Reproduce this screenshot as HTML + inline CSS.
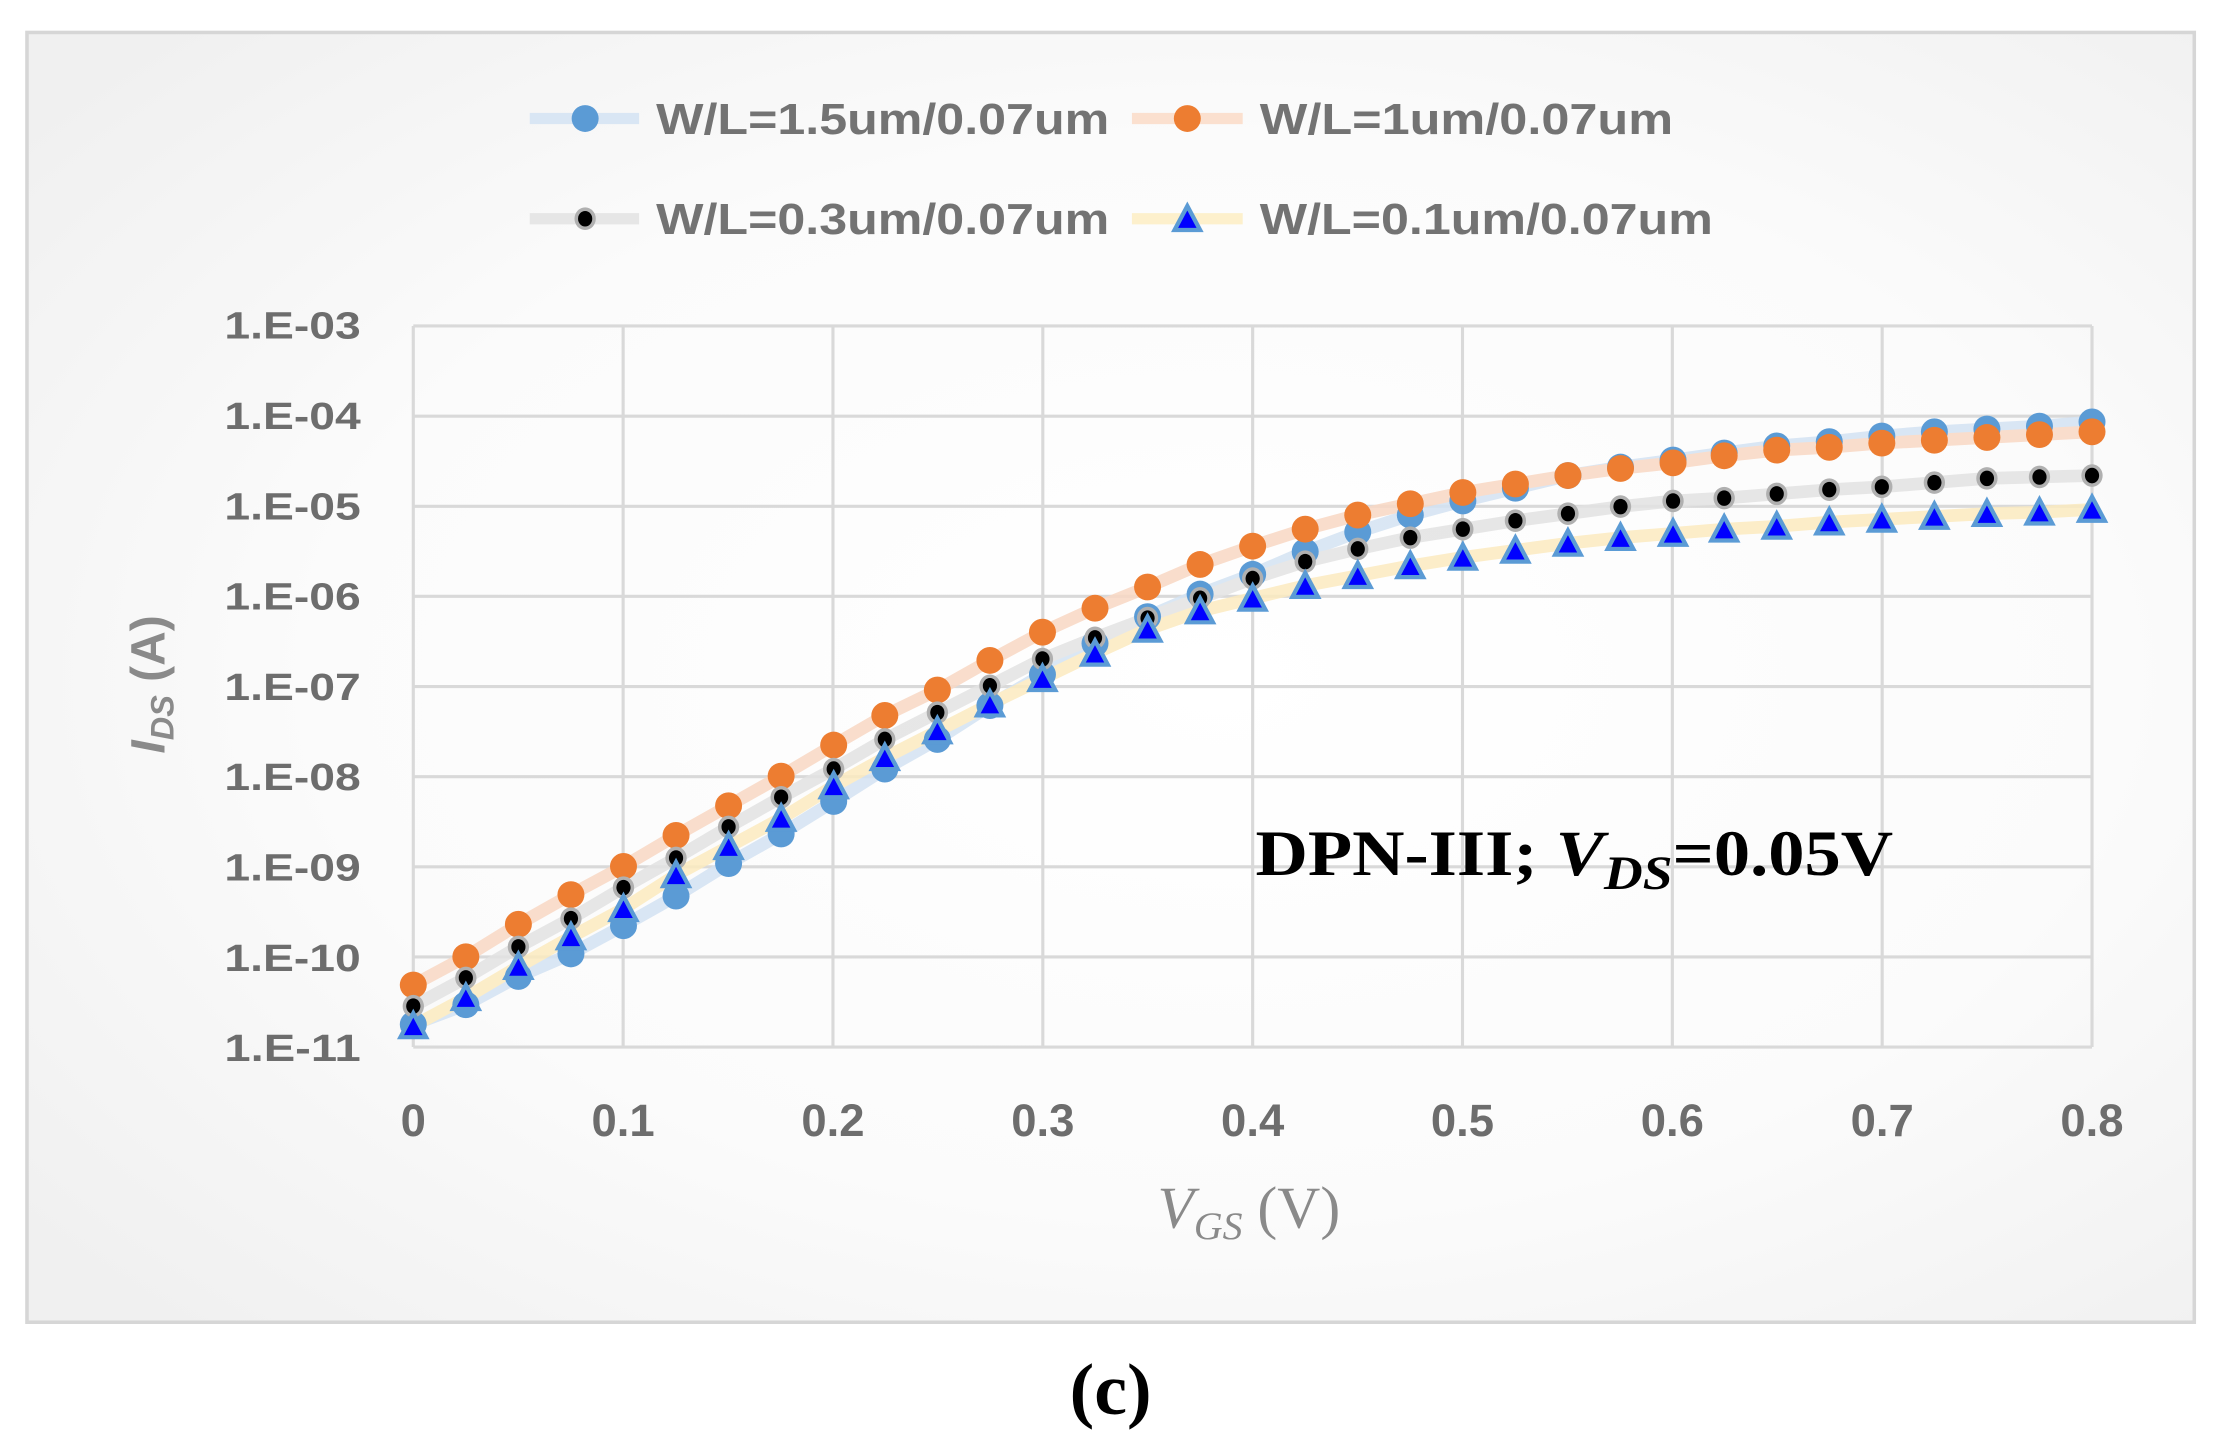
<!DOCTYPE html>
<html><head><meta charset="utf-8"><style>
html,body{margin:0;padding:0;background:#fff;}
svg{display:block;}
</style></head><body>
<svg width="2217" height="1445" viewBox="0 0 1561 1024" preserveAspectRatio="none" xmlns="http://www.w3.org/2000/svg">
<defs>
<radialGradient id="bg" cx="0.55" cy="0.5" r="0.7">
<stop offset="0" stop-color="#ffffff"/><stop offset="0.6" stop-color="#fbfbfb"/><stop offset="1" stop-color="#f0f0f0"/>
</radialGradient>
<g id="mb"><ellipse cx="0" cy="0" rx="9.5" ry="9.5" fill="#5b9bd5"/></g>
<g id="mo"><ellipse cx="0" cy="0" rx="9.5" ry="9.5" fill="#ed7d31"/></g>
<g id="mk"><ellipse cx="0" cy="0" rx="7.5" ry="8" fill="#b0b0b0"/><ellipse cx="0" cy="0" rx="5" ry="5.5" fill="#000"/></g>
<g id="mt"><polygon points="0,-9 9,8 -9,8" fill="#0000ff" stroke="#5b9bd5" stroke-width="3" stroke-linejoin="miter"/></g>
</defs>
<rect x="0" y="0" width="1561" height="1024" fill="#fff"/>
<rect x="19" y="23" width="1526" height="914" fill="url(#bg)" stroke="#d6d6d6" stroke-width="2.5"/>
<g stroke="#d9d9d9" stroke-width="2.2" fill="none">
<line x1="291" y1="231" x2="1473" y2="231"/><line x1="291" y1="294.9" x2="1473" y2="294.9"/>
<line x1="291" y1="358.8" x2="1473" y2="358.8"/><line x1="291" y1="422.6" x2="1473" y2="422.6"/>
<line x1="291" y1="486.5" x2="1473" y2="486.5"/><line x1="291" y1="550.4" x2="1473" y2="550.4"/>
<line x1="291" y1="614.3" x2="1473" y2="614.3"/><line x1="291" y1="678.1" x2="1473" y2="678.1"/>
<line x1="291" y1="742" x2="1473" y2="742"/>
<line x1="291" y1="231" x2="291" y2="742"/><line x1="438.75" y1="231" x2="438.75" y2="742"/>
<line x1="586.5" y1="231" x2="586.5" y2="742"/><line x1="734.25" y1="231" x2="734.25" y2="742"/>
<line x1="882" y1="231" x2="882" y2="742"/><line x1="1029.75" y1="231" x2="1029.75" y2="742"/>
<line x1="1177.5" y1="231" x2="1177.5" y2="742"/><line x1="1325.25" y1="231" x2="1325.25" y2="742"/>
<line x1="1473" y1="231" x2="1473" y2="742"/>
</g>
<g font-family="Liberation Sans, sans-serif" font-weight="bold" font-size="27" fill="#6d6d6d">
<text x="158" y="240" textLength="96" lengthAdjust="spacingAndGlyphs">1.E-03</text>
<text x="158" y="304" textLength="96" lengthAdjust="spacingAndGlyphs">1.E-04</text>
<text x="158" y="368" textLength="96" lengthAdjust="spacingAndGlyphs">1.E-05</text>
<text x="158" y="432" textLength="96" lengthAdjust="spacingAndGlyphs">1.E-06</text>
<text x="158" y="496" textLength="96" lengthAdjust="spacingAndGlyphs">1.E-07</text>
<text x="158" y="560" textLength="96" lengthAdjust="spacingAndGlyphs">1.E-08</text>
<text x="158" y="624" textLength="96" lengthAdjust="spacingAndGlyphs">1.E-09</text>
<text x="158" y="688" textLength="96" lengthAdjust="spacingAndGlyphs">1.E-10</text>
<text x="158" y="752" textLength="96" lengthAdjust="spacingAndGlyphs">1.E-11</text>
</g>
<g font-family="Liberation Sans, sans-serif" font-weight="bold" font-size="32" fill="#6d6d6d" text-anchor="middle">
<text x="291" y="805">0</text><text x="438.75" y="805">0.1</text><text x="586.5" y="805">0.2</text>
<text x="734.25" y="805">0.3</text><text x="882" y="805">0.4</text><text x="1029.75" y="805">0.5</text>
<text x="1177.5" y="805">0.6</text><text x="1325.25" y="805">0.7</text><text x="1473" y="805">0.8</text>
</g>
<text x="815" y="870" font-family="Liberation Serif, serif" font-size="42" fill="#8a8a8a"><tspan font-style="italic">V</tspan><tspan font-style="italic" font-size="28" dy="8">GS</tspan><tspan dy="-8"> (V)</tspan></text>
<text transform="translate(116,485) rotate(-90)" text-anchor="middle" font-family="Liberation Sans, sans-serif" font-weight="bold" font-size="34" fill="#8a8a8a"><tspan font-style="italic">I</tspan><tspan font-style="italic" font-size="23" dy="6">DS</tspan><tspan dy="-6"> (A)</tspan></text>
<text x="884" y="620" font-family="Liberation Serif, serif" font-weight="bold" font-size="46" fill="#000" textLength="449" lengthAdjust="spacingAndGlyphs">DPN-III; <tspan font-style="italic">V</tspan><tspan font-style="italic" font-size="34" dy="10">DS</tspan><tspan dy="-10">=0.05V</tspan></text>
<text x="782" y="1002" text-anchor="middle" font-family="Liberation Serif, serif" font-weight="bold" font-size="52" fill="#000">(c)</text>
<g stroke-width="8" stroke-linecap="butt">
<line x1="373" y1="84" x2="450" y2="84" stroke="#d9e6f4"/>
<line x1="797" y1="84" x2="875" y2="84" stroke="#fbe0cf"/>
<line x1="373" y1="155" x2="450" y2="155" stroke="#e6e6e6"/>
<line x1="797" y1="155" x2="875" y2="155" stroke="#fdf0cc"/>
</g>
<use href="#mb" x="412" y="84"/><use href="#mo" x="836" y="84"/>
<use href="#mk" x="412" y="155"/><use href="#mt" x="836" y="155"/>
<g font-family="Liberation Sans, sans-serif" font-weight="bold" font-size="31" fill="#737373">
<text x="462" y="95" textLength="319" lengthAdjust="spacingAndGlyphs">W/L=1.5um/0.07um</text>
<text x="887" y="95" textLength="291" lengthAdjust="spacingAndGlyphs">W/L=1um/0.07um</text>
<text x="462" y="166" textLength="319" lengthAdjust="spacingAndGlyphs">W/L=0.3um/0.07um</text>
<text x="887" y="166" textLength="319" lengthAdjust="spacingAndGlyphs">W/L=0.1um/0.07um</text>
</g>
<g fill="none" stroke-width="9" stroke-linejoin="round" opacity="0.85">
<polyline stroke="#d4e3f3" points="291,726 328,712 365,692 402,676 439,656 476,635 513,612 550,591 587,568 623,545 660,524 697,500 734,478 771,456 808,437 845,421 882,407 919,391 956,377 993,365 1030,355 1067,346 1104,337 1141,331 1178,326 1214,321 1251,316 1288,313 1325,309 1362,306 1399,304 1436,302 1473,299"/>
<polyline stroke="#f9d8c4" points="291,698 328,678 365,655 402,634 439,614 476,592 513,571 550,550 587,528 623,507 660,489 697,468 734,448 771,431 808,416 845,400 882,387 919,375 956,365 993,357 1030,349 1067,343 1104,337 1141,332 1178,328 1214,323 1251,319 1288,317 1325,314 1362,312 1399,310 1436,308 1473,306"/>
<polyline stroke="#e3e3e3" points="291,713 328,693 365,671 402,651 439,629 476,608 513,586 550,565 587,545 623,524 660,505 697,486 734,467 771,452 808,438 845,424 882,410 919,398 956,389 993,381 1030,375 1067,369 1104,364 1141,359 1178,355 1214,353 1251,350 1288,347 1325,345 1362,342 1399,339 1436,338 1473,337"/>
<polyline stroke="#fcebc0" points="291,727 328,707 365,685 402,664 439,644 476,620 513,600 550,580 587,557 623,537 660,518 697,499 734,481 771,463 808,446 845,433 882,424 919,415 956,408 993,401 1030,395 1067,390 1104,385 1141,381 1178,378 1214,375 1251,373 1288,370 1325,368 1362,366 1399,364 1436,363 1473,361"/>
</g>
<g>
<use href="#mb" x="291" y="726"/><use href="#mb" x="328" y="712"/><use href="#mb" x="365" y="692"/><use href="#mb" x="402" y="676"/><use href="#mb" x="439" y="656"/><use href="#mb" x="476" y="635"/><use href="#mb" x="513" y="612"/><use href="#mb" x="550" y="591"/><use href="#mb" x="587" y="568"/><use href="#mb" x="623" y="545"/><use href="#mb" x="660" y="524"/><use href="#mb" x="697" y="500"/><use href="#mb" x="734" y="478"/><use href="#mb" x="771" y="456"/><use href="#mb" x="808" y="437"/><use href="#mb" x="845" y="421"/><use href="#mb" x="882" y="407"/><use href="#mb" x="919" y="391"/><use href="#mb" x="956" y="377"/><use href="#mb" x="993" y="365"/><use href="#mb" x="1030" y="355"/><use href="#mb" x="1067" y="346"/><use href="#mb" x="1104" y="337"/><use href="#mb" x="1141" y="331"/><use href="#mb" x="1178" y="326"/><use href="#mb" x="1214" y="321"/><use href="#mb" x="1251" y="316"/><use href="#mb" x="1288" y="313"/><use href="#mb" x="1325" y="309"/><use href="#mb" x="1362" y="306"/><use href="#mb" x="1399" y="304"/><use href="#mb" x="1436" y="302"/><use href="#mb" x="1473" y="299"/>
</g>
<g>
<use href="#mo" x="291" y="698"/><use href="#mo" x="328" y="678"/><use href="#mo" x="365" y="655"/><use href="#mo" x="402" y="634"/><use href="#mo" x="439" y="614"/><use href="#mo" x="476" y="592"/><use href="#mo" x="513" y="571"/><use href="#mo" x="550" y="550"/><use href="#mo" x="587" y="528"/><use href="#mo" x="623" y="507"/><use href="#mo" x="660" y="489"/><use href="#mo" x="697" y="468"/><use href="#mo" x="734" y="448"/><use href="#mo" x="771" y="431"/><use href="#mo" x="808" y="416"/><use href="#mo" x="845" y="400"/><use href="#mo" x="882" y="387"/><use href="#mo" x="919" y="375"/><use href="#mo" x="956" y="365"/><use href="#mo" x="993" y="357"/><use href="#mo" x="1030" y="349"/><use href="#mo" x="1067" y="343"/><use href="#mo" x="1104" y="337"/><use href="#mo" x="1141" y="332"/><use href="#mo" x="1178" y="328"/><use href="#mo" x="1214" y="323"/><use href="#mo" x="1251" y="319"/><use href="#mo" x="1288" y="317"/><use href="#mo" x="1325" y="314"/><use href="#mo" x="1362" y="312"/><use href="#mo" x="1399" y="310"/><use href="#mo" x="1436" y="308"/><use href="#mo" x="1473" y="306"/>
</g>
<g>
<use href="#mk" x="291" y="713"/><use href="#mk" x="328" y="693"/><use href="#mk" x="365" y="671"/><use href="#mk" x="402" y="651"/><use href="#mk" x="439" y="629"/><use href="#mk" x="476" y="608"/><use href="#mk" x="513" y="586"/><use href="#mk" x="550" y="565"/><use href="#mk" x="587" y="545"/><use href="#mk" x="623" y="524"/><use href="#mk" x="660" y="505"/><use href="#mk" x="697" y="486"/><use href="#mk" x="734" y="467"/><use href="#mk" x="771" y="452"/><use href="#mk" x="808" y="438"/><use href="#mk" x="845" y="424"/><use href="#mk" x="882" y="410"/><use href="#mk" x="919" y="398"/><use href="#mk" x="956" y="389"/><use href="#mk" x="993" y="381"/><use href="#mk" x="1030" y="375"/><use href="#mk" x="1067" y="369"/><use href="#mk" x="1104" y="364"/><use href="#mk" x="1141" y="359"/><use href="#mk" x="1178" y="355"/><use href="#mk" x="1214" y="353"/><use href="#mk" x="1251" y="350"/><use href="#mk" x="1288" y="347"/><use href="#mk" x="1325" y="345"/><use href="#mk" x="1362" y="342"/><use href="#mk" x="1399" y="339"/><use href="#mk" x="1436" y="338"/><use href="#mk" x="1473" y="337"/>
</g>
<g>
<use href="#mt" x="291" y="727"/><use href="#mt" x="328" y="707"/><use href="#mt" x="365" y="685"/><use href="#mt" x="402" y="664"/><use href="#mt" x="439" y="644"/><use href="#mt" x="476" y="620"/><use href="#mt" x="513" y="600"/><use href="#mt" x="550" y="580"/><use href="#mt" x="587" y="557"/><use href="#mt" x="623" y="537"/><use href="#mt" x="660" y="518"/><use href="#mt" x="697" y="499"/><use href="#mt" x="734" y="481"/><use href="#mt" x="771" y="463"/><use href="#mt" x="808" y="446"/><use href="#mt" x="845" y="433"/><use href="#mt" x="882" y="424"/><use href="#mt" x="919" y="415"/><use href="#mt" x="956" y="408"/><use href="#mt" x="993" y="401"/><use href="#mt" x="1030" y="395"/><use href="#mt" x="1067" y="390"/><use href="#mt" x="1104" y="385"/><use href="#mt" x="1141" y="381"/><use href="#mt" x="1178" y="378"/><use href="#mt" x="1214" y="375"/><use href="#mt" x="1251" y="373"/><use href="#mt" x="1288" y="370"/><use href="#mt" x="1325" y="368"/><use href="#mt" x="1362" y="366"/><use href="#mt" x="1399" y="364"/><use href="#mt" x="1436" y="363"/><use href="#mt" x="1473" y="361"/>
</g>
</svg>
</body></html>
